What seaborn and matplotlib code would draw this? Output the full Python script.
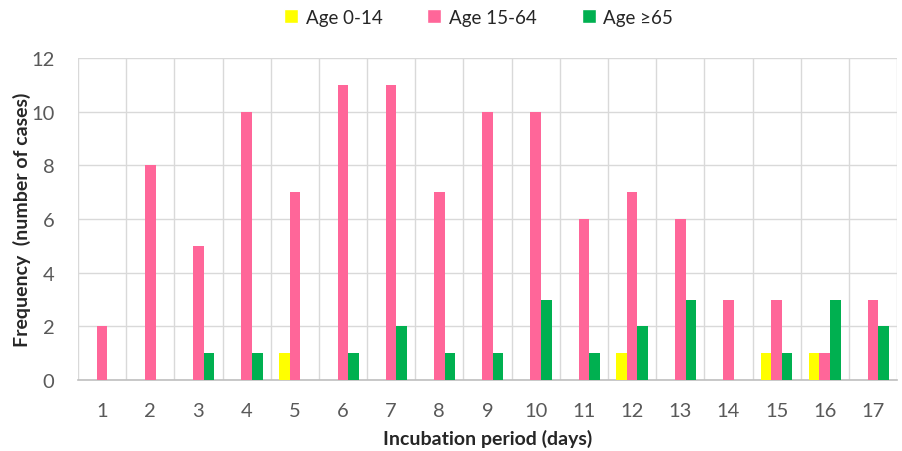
import numpy as np
import pandas as pd
import seaborn as sns
import matplotlib.pyplot as plt
from matplotlib.patches import Patch

days = list(range(1, 18))
age_0_14 = [0, 0, 0, 0, 1, 0, 0, 0, 0, 0, 0, 1, 0, 0, 1, 1, 0]
age_15_64 = [2, 8, 5, 10, 7, 11, 11, 7, 10, 10, 6, 7, 6, 3, 3, 1, 3]
age_65 = [0, 0, 1, 1, 0, 1, 2, 1, 1, 3, 1, 2, 3, 0, 1, 3, 2]
groups = ["Age 0-14", "Age 15-64", "Age \u226565"]
colors = ["#FFFF00", "#FF6699", "#00B050"]

df = pd.DataFrame({
    "Day": days * 3,
    "Group": [groups[0]] * 17 + [groups[1]] * 17 + [groups[2]] * 17,
    "Cases": age_0_14 + age_15_64 + age_65,
})
df["Day"] = df["Day"].astype(str)

sns.set_style("white")
plt.rcParams['font.family'] = ['Lato', 'DejaVu Sans']

fig = plt.figure(figsize=(9.03, 4.52), dpi=100)
ax = fig.add_axes([0.0864, 0.157, 0.907, 0.7125])
sns.barplot(data=df, x="Day", y="Cases", hue="Group", palette=colors,
            width=0.66, saturation=1, ax=ax, legend=False, zorder=3,
            linewidth=0, edgecolor="none")

ax.set_xlim(-0.5, 16.5)
ax.set_ylim(0, 12)
ax.set_yticks(range(0, 13, 2))
ax.set_xticks(np.arange(-0.5, 17, 1), minor=True)
ax.grid(axis="y", which="major", color="#D9D9D9", linewidth=1, zorder=0)
ax.grid(axis="x", which="minor", color="#D9D9D9", linewidth=1, zorder=0)
ax.tick_params(axis="both", which="both", length=0, labelsize=14.5,
               colors="#595959")
ax.tick_params(axis="x", pad=16)
ax.tick_params(axis="y", pad=17)
for s in ["top", "right", "left"]:
    ax.spines[s].set_visible(False)
ax.spines["bottom"].set_color("#BFBFBF")
ax.spines["bottom"].set_linewidth(1.2)

ax.set_xlabel("Incubation period (days)", fontsize=14, fontweight="bold", labelpad=7)
ax.set_ylabel("Frequency  (number of cases)", fontsize=14, fontweight="bold", labelpad=0)

handles = [Patch(facecolor=c, label=g) for c, g in zip(colors, groups)]
fig.legend(handles=handles, loc="center", bbox_to_anchor=(0.53, 0.96), ncol=3,
           frameon=False, fontsize=13.5, handlelength=0.75, handleheight=0.75,
           handletextpad=0.4, columnspacing=2.4)

fig.savefig("out.png", dpi=100)
